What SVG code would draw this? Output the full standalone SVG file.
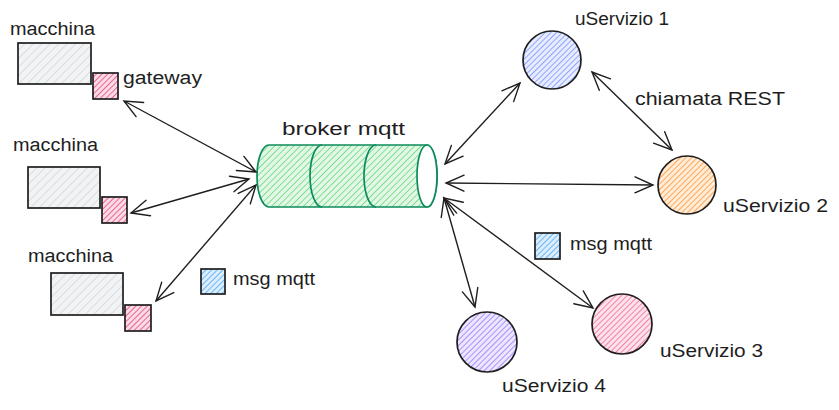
<svg xmlns="http://www.w3.org/2000/svg" width="839" height="410" viewBox="0 0 839 410">
<defs>
<pattern id="hGray" patternUnits="userSpaceOnUse" width="6" height="6" patternTransform="rotate(45)"><rect width="6" height="6" fill="#f1f3f5"/><line x1="0" y1="0" x2="0" y2="6" stroke="#d3d7db" stroke-width="1.5"/></pattern>
<pattern id="hPink" patternUnits="userSpaceOnUse" width="4" height="4" patternTransform="rotate(45)"><rect width="4" height="4" fill="#fbdbe5"/><line x1="0" y1="0" x2="0" y2="4" stroke="#e64980" stroke-width="1.6"/></pattern>
<pattern id="hBlue" patternUnits="userSpaceOnUse" width="4" height="4" patternTransform="rotate(45)"><rect width="4" height="4" fill="#dcedfc"/><line x1="0" y1="0" x2="0" y2="4" stroke="#4dabf7" stroke-width="1.6"/></pattern>
<pattern id="hGreen" patternUnits="userSpaceOnUse" width="4.5" height="4.5" patternTransform="rotate(45)"><rect width="4.5" height="4.5" fill="#e3f7e7"/><line x1="0" y1="0" x2="0" y2="4.5" stroke="#69db7c" stroke-width="1.6"/></pattern>
<pattern id="hIndigo" patternUnits="userSpaceOnUse" width="4" height="4" patternTransform="rotate(45)"><rect width="4" height="4" fill="#e8ecff"/><line x1="0" y1="0" x2="0" y2="4" stroke="#748ffc" stroke-width="1.5"/></pattern>
<pattern id="hOrange" patternUnits="userSpaceOnUse" width="4" height="4" patternTransform="rotate(45)"><rect width="4" height="4" fill="#ffecd9"/><line x1="0" y1="0" x2="0" y2="4" stroke="#ff922b" stroke-width="1.5"/></pattern>
<pattern id="hRose" patternUnits="userSpaceOnUse" width="4" height="4" patternTransform="rotate(45)"><rect width="4" height="4" fill="#fde2ea"/><line x1="0" y1="0" x2="0" y2="4" stroke="#f06595" stroke-width="1.5"/></pattern>
<pattern id="hViolet" patternUnits="userSpaceOnUse" width="4" height="4" patternTransform="rotate(45)"><rect width="4" height="4" fill="#ece6ff"/><line x1="0" y1="0" x2="0" y2="4" stroke="#9775fa" stroke-width="1.5"/></pattern>
<marker id="ah" viewBox="0 0 24 24" refX="21" refY="12" markerWidth="24" markerHeight="24" markerUnits="userSpaceOnUse" orient="auto-start-reverse">
<path d="M3,4 L21,12 L3,20" fill="none" stroke="#1e1e1e" stroke-width="1.4" stroke-linecap="round"/>
</marker>
</defs>
<style>
text{font-family:"Liberation Sans","DejaVu Sans",sans-serif;font-size:18px;fill:#1e1e1e}
.box{stroke:#1e1e1e;stroke-width:1.7}
.con{stroke:#1e1e1e;stroke-width:1.4;fill:none;marker-start:url(#ah);marker-end:url(#ah)}
.cyl{stroke:#0c8c5c;stroke-width:1.7}
</style>

<g id="macchina1">
<text x="10" y="35" textLength="85" lengthAdjust="spacingAndGlyphs">macchina</text>
<rect class="box" x="18" y="43" width="73" height="41" fill="url(#hGray)"/>
</g>
<g id="gateway1">
<rect class="box" x="93" y="73" width="25" height="26" fill="url(#hPink)"/>
<text x="123" y="84" textLength="79" lengthAdjust="spacingAndGlyphs">gateway</text>
</g>
<g id="macchina2">
<text x="13" y="151" textLength="85" lengthAdjust="spacingAndGlyphs">macchina</text>
<rect class="box" x="28" y="167" width="72" height="41" fill="url(#hGray)"/>
</g>
<g id="gateway2">
<rect class="box" x="102" y="197" width="25" height="26" fill="url(#hPink)"/>
</g>
<g id="macchina3">
<text x="28" y="262" textLength="85" lengthAdjust="spacingAndGlyphs">macchina</text>
<rect class="box" x="51" y="273" width="72" height="42" fill="url(#hGray)"/>
</g>
<g id="gateway3">
<rect class="box" x="125" y="305" width="26" height="26" fill="url(#hPink)"/>
</g>
<g id="msg1">
<rect class="box" x="201" y="269" width="24" height="25" fill="url(#hBlue)"/>
<text x="233" y="285" textLength="82" lengthAdjust="spacingAndGlyphs">msg mqtt</text>
</g>
<g id="broker">
<text x="282" y="135" textLength="123" lengthAdjust="spacingAndGlyphs">broker mqtt</text>
<path class="cyl" d="M269,145 L427,145 A10,31 0 0 1 427,207 L269,207 A12,31 0 0 1 269,145 Z" fill="url(#hGreen)"/>
<path class="cyl" d="M322,145 A12,31 0 0 0 322,207" fill="none"/>
<path class="cyl" d="M376,145 A12,31 0 0 0 376,207" fill="none"/>
<ellipse class="cyl" cx="427" cy="176" rx="10" ry="31" fill="#ffffff"/>
</g>
<g id="uServizio1">
<circle class="box" cx="552" cy="60" r="29" fill="url(#hIndigo)"/>
<text x="575" y="25" textLength="94" lengthAdjust="spacingAndGlyphs">uServizio 1</text>
</g>
<g id="uServizio2">
<circle class="box" cx="687" cy="185" r="29" fill="url(#hOrange)"/>
<text x="723" y="212" textLength="105" lengthAdjust="spacingAndGlyphs">uServizio 2</text>
</g>
<g id="uServizio3">
<circle class="box" cx="622" cy="324" r="30" fill="url(#hRose)"/>
<text x="660" y="357" textLength="103" lengthAdjust="spacingAndGlyphs">uServizio 3</text>
</g>
<g id="uServizio4">
<circle class="box" cx="487" cy="342" r="30" fill="url(#hViolet)"/>
<text x="502" y="392" textLength="104" lengthAdjust="spacingAndGlyphs">uServizio 4</text>
</g>
<g id="msg2">
<rect class="box" x="535" y="233" width="25" height="26" fill="url(#hBlue)"/>
<text x="570" y="250" textLength="82" lengthAdjust="spacingAndGlyphs">msg mqtt</text>
</g>
<g id="label-rest">
<text x="635" y="105" textLength="150" lengthAdjust="spacingAndGlyphs">chiamata REST</text>
</g>

<g id="connectors">
<line class="con" x1="124" y1="101" x2="256" y2="172"/>
<line class="con" x1="249" y1="179" x2="131" y2="213"/>
<line class="con" x1="256" y1="185" x2="156" y2="301"/>
<line class="con" x1="445" y1="164" x2="520" y2="83"/>
<line class="con" x1="446" y1="183" x2="653" y2="185"/>
<line class="con" x1="444" y1="198" x2="475" y2="307"/>
<line class="con" x1="444" y1="198" x2="593" y2="308"/>
<line class="con" x1="592" y1="72" x2="672" y2="150"/>
</g>
</svg>
